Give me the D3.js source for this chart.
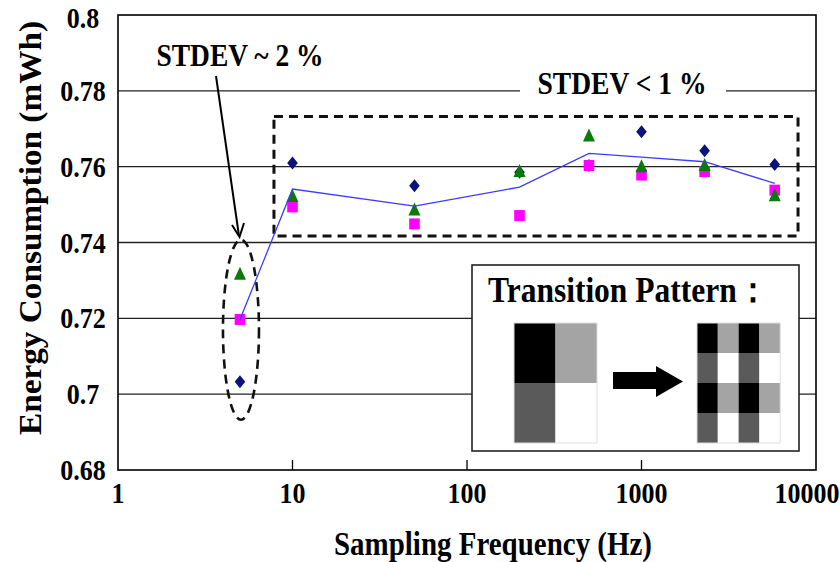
<!DOCTYPE html>
<html>
<head>
<meta charset="utf-8">
<script src="https://cdn.jsdelivr.net/npm/d3@7"></script>
<style>
  body { margin: 0; background: #fff; }
  svg { display: block; }
  text { font-family: "Liberation Serif", "Times New Roman", serif; font-weight: bold; fill: #000; }
</style>
</head>
<body>
<svg width="840" height="562"></svg>
<script>
// data
const freqs = [5, 10, 50, 200, 500, 1000, 2300, 5800];
const diamondVals = [0.7033, 0.7610, 0.7550, 0.7585, 0.7603, 0.7692, 0.7642, 0.7606];
const squareVals = [0.7197, 0.7494, 0.7449, 0.7471, 0.7603, 0.7578, 0.7587, 0.7538];
const triangleVals = [0.7316, 0.7521, 0.7486, 0.7587, 0.7681, 0.7600, 0.7603, 0.7523];
const averageVals = [0.7197, 0.7541, 0.7496, 0.7546, 0.7635, 0.7625, 0.7613, 0.7556];

const yTicks = [0.68, 0.7, 0.72, 0.74, 0.76, 0.78, 0.8];
const xTicks = [1, 10, 100, 1000, 10000];
const yTitle = "Energy Consumption (mWh)";
const xTitle = "Sampling Frequency (Hz)";
const noteWide = "STDEV ~ 2 %";
const noteNarrow = "STDEV < 1 %";
const insetTitle = "Transition Pattern：";
// 2x2 block, tiled into 4x4 on the right
const patternShades = [["#000000", "#a4a4a4"], ["#5a5a5a", "#ffffff"]];

const svg = d3.select("svg");

const plotLeft = 118, plotRight = 816, plotTop = 15, plotBottom = 470;
const x = d3.scaleLog().domain([1, 10000]).range([plotLeft, plotRight]);
const y = d3.scaleLinear().domain([0.68, 0.8]).range([plotBottom, plotTop]);

// text in the picture is a bit stretched vertically
function stretched(g, str, px, py, size, anchor) {
  return g.append("text")
    .attr("transform", `translate(${px},${py}) scale(1,1.15)`)
    .attr("text-anchor", anchor)
    .style("font-size", size + "px")
    .text(str);
}

// gridlines
svg.append("g")
  .selectAll("line")
  .data(yTicks.slice(1, -1))
  .enter()
  .append("line")
  .attr("x1", plotLeft).attr("x2", plotRight)
  .attr("y1", d => y(d)).attr("y2", d => y(d))
  .attr("stroke", "#222").attr("stroke-width", 1.3);

// white gap behind the "< 1 %" note
svg.append("rect")
  .attr("x", 520).attr("y", 76).attr("width", 206).attr("height", 26)
  .attr("fill", "#fff");

// plot border
svg.append("rect")
  .attr("x", plotLeft).attr("y", plotTop)
  .attr("width", plotRight - plotLeft).attr("height", plotBottom - plotTop)
  .attr("fill", "none").attr("stroke", "#000").attr("stroke-width", 1.6);

// x ticks (inside, upward)
svg.append("g")
  .selectAll("line")
  .data(xTicks.slice(1, -1))
  .enter()
  .append("line")
  .attr("x1", d => x(d)).attr("x2", d => x(d))
  .attr("y1", plotBottom).attr("y2", plotBottom - 10)
  .attr("stroke", "#000").attr("stroke-width", 1.3);

// y tick labels
const yLab = svg.append("g");
yTicks.forEach(v => {
  const label = v === 0.7 ? "0.7" : v === 0.8 ? "0.8" : d3.format(".2f")(v);
  const dy = v === 0.8 ? 13 : 10;
  stretched(yLab, label, 83, y(v) + dy, 26, "middle");
});

// x tick labels
const xLab = svg.append("g");
xTicks.forEach(v => {
  const dx = v === 10000 ? -9 : 0;
  stretched(xLab, String(v), x(v) + dx, 503, 26, "middle");
});

// axis titles
stretched(svg, xTitle, 493, 555, 29, "middle")
  .attr("textLength", 318).attr("lengthAdjust", "spacingAndGlyphs");

svg.append("text")
  .attr("transform", "translate(41,228) rotate(-90)")
  .attr("text-anchor", "middle")
  .style("font-size", "31px")
  .attr("textLength", 414).attr("lengthAdjust", "spacingAndGlyphs")
  .text(yTitle);

// dashed box around the high-frequency points
svg.append("rect")
  .attr("x", x(7.83)).attr("y", y(0.7732))
  .attr("width", x(7890) - x(7.83))
  .attr("height", y(0.7417) - y(0.7732))
  .attr("fill", "none").attr("stroke", "#111")
  .attr("stroke-width", 3).attr("stroke-dasharray", "9,6");

// dashed ellipse around 5 Hz
svg.append("ellipse")
  .attr("cx", x(5) + 1).attr("cy", y(0.717))
  .attr("rx", 18).attr("ry", 90)
  .attr("fill", "none").attr("stroke", "#111")
  .attr("stroke-width", 2.6).attr("stroke-dasharray", "9,6");

// notes
stretched(svg, noteWide, 240, 66, 27, "middle")
  .attr("textLength", 167).attr("lengthAdjust", "spacingAndGlyphs");
stretched(svg, noteNarrow, 622, 94, 27, "middle")
  .attr("textLength", 169).attr("lengthAdjust", "spacingAndGlyphs");

// arrow from note to ellipse
svg.append("line")
  .attr("x1", 216).attr("y1", 76).attr("x2", 239).attr("y2", 236)
  .attr("stroke", "#000").attr("stroke-width", 2);
svg.append("path")
  .attr("d", "M232,225 L239.5,237 L244,223")
  .attr("fill", "none").attr("stroke", "#000").attr("stroke-width", 2);

// markers
const pts = (vals) => freqs.map((f, i) => ({ f: f, v: vals[i] }));

svg.append("g")
  .selectAll("path")
  .data(pts(diamondVals))
  .enter()
  .append("path")
  .attr("d", d => {
    const cx = x(d.f), cy = y(d.v);
    return `M${cx},${cy - 6.5} L${cx + 5.3},${cy} L${cx},${cy + 6.5} L${cx - 5.3},${cy} Z`;
  })
  .attr("fill", "#0b127a");

svg.append("g")
  .selectAll("rect")
  .data(pts(squareVals))
  .enter()
  .append("rect")
  .attr("x", d => x(d.f) - 5.3).attr("y", d => y(d.v) - 5.5)
  .attr("width", 10.6).attr("height", 11)
  .attr("fill", "#ff00ff");

svg.append("g")
  .selectAll("path")
  .data(pts(triangleVals))
  .enter()
  .append("path")
  .attr("d", d => {
    const cx = x(d.f), cy = y(d.v);
    return `M${cx},${cy - 7.5} L${cx + 6},${cy + 5.5} L${cx - 6},${cy + 5.5} Z`;
  })
  .attr("fill", "#0a7a0a");

// average line
const lineGen = d3.line().x(d => x(d.f)).y(d => y(d.v));
svg.append("path")
  .datum(pts(averageVals))
  .attr("d", lineGen)
  .attr("fill", "none")
  .attr("stroke", "#3b3bff")
  .attr("stroke-width", 1.3);

// inset
const inset = svg.append("g");
inset.append("rect")
  .attr("x", 472).attr("y", 265).attr("width", 327).attr("height", 186)
  .attr("fill", "#fff").attr("stroke", "#222").attr("stroke-width", 1.6);

inset.append("text")
  .attr("transform", "translate(488,301.5) scale(1,1.13)")
  .style("font-size", "31.5px")
  .text(insetTitle);

// left 2x2 block
const cellW = 41.5, cellH = 60;
patternShades.forEach((row, r) => {
  row.forEach((c, k) => {
    inset.append("rect")
      .attr("x", 514 + k * cellW).attr("y", 323 + r * cellH)
      .attr("width", cellW).attr("height", cellH)
      .attr("fill", c);
  });
});
inset.append("rect")
  .attr("x", 514).attr("y", 323).attr("width", 2 * cellW).attr("height", 2 * cellH)
  .attr("fill", "none").attr("stroke", "#ddd").attr("stroke-width", 1);

// right 4x4 tiled block
const smallW = 20.8, smallH = 30;
for (let r = 0; r < 4; r++) {
  for (let k = 0; k < 4; k++) {
    inset.append("rect")
      .attr("x", 697 + k * smallW).attr("y", 323 + r * smallH)
      .attr("width", smallW).attr("height", smallH)
      .attr("fill", patternShades[r % 2][k % 2]);
  }
}
inset.append("rect")
  .attr("x", 697).attr("y", 323).attr("width", 4 * smallW).attr("height", 4 * smallH)
  .attr("fill", "none").attr("stroke", "#ddd").attr("stroke-width", 1);

// arrow between the blocks
inset.append("path")
  .attr("d", "M613,372 L656,372 L656,366 L683,381.5 L656,397 L656,389 L613,389 Z")
  .attr("fill", "#000");
</script>
</body>
</html>
